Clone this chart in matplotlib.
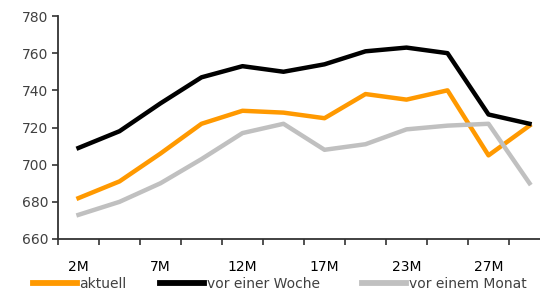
import numpy as np
import matplotlib.pyplot as plt

plt.rcParams['font.family'] = ['DejaVu Sans']

# Laufzeiten (nur jede zweite beschriftet)
labels = ['2M', '', '7M', '', '12M', '', '17M', '', '23M', '', '27M', '']

aktuell = [682, 691, 706, 722, 729, 728, 725, 738, 735, 740, 705, 721]
vor_woche = [709, 718, 733, 747, 753, 750, 754, 761, 763, 760, 727, 722]
vor_monat = [673, 680, 690, 703, 717, 722, 708, 711, 719, 721, 722, 690]

x = np.arange(len(labels))

fig = plt.figure(figsize=(5.4, 2.95), dpi=100)
ax = fig.add_axes([58 / 540, 1 - 239 / 295, 492 / 540, 223 / 295])

l1, = ax.plot(x, aktuell, color='#FF9900', lw=3.2, label='aktuell')
l2, = ax.plot(x, vor_woche, color='black', lw=3.2, label='vor einer Woche')
l3, = ax.plot(x, vor_monat, color='#C0C0C0', lw=3.2, label='vor einem Monat')

ax.set_xlim(-0.5, len(labels) - 0.5)
ax.set_ylim(660, 780)
ax.set_yticks(np.arange(660, 781, 20))

# Striche zwischen den Kategorien, Beschriftung in der Mitte
ax.set_xticks(np.arange(-0.5, len(labels), 1))
ax.set_xticklabels([])
ax.set_xticks(x, minor=True)
ax.set_xticklabels(labels, minor=True)
ax.tick_params(axis='x', which='minor', length=0, pad=15)
ax.tick_params(axis='x', which='major', length=4, width=1.2, color='#333333')
ax.tick_params(axis='y', length=4, width=1.2, color='#333333', pad=3)
ax.tick_params(labelsize=10, labelcolor='#404040')

for s in ['top', 'right']:
    ax.spines[s].set_visible(False)
for s in ['left', 'bottom']:
    ax.spines[s].set_linewidth(1.3)
    ax.spines[s].set_color('#333333')

# Legende: drei Einträge einzeln platziert
for line, xpos in [(l1, 33), (l2, 160), (l3, 362)]:
    leg = fig.legend(handles=[line], loc='center left',
                     bbox_to_anchor=(xpos / 540, 1 - 284 / 295), frameon=False,
                     fontsize=10, handlelength=3.2, handletextpad=0.15,
                     borderpad=0, borderaxespad=0, labelcolor='#404040')
    for h in leg.get_lines():
        h.set_linewidth(4.2)

fig.savefig('out.png', dpi=100)
